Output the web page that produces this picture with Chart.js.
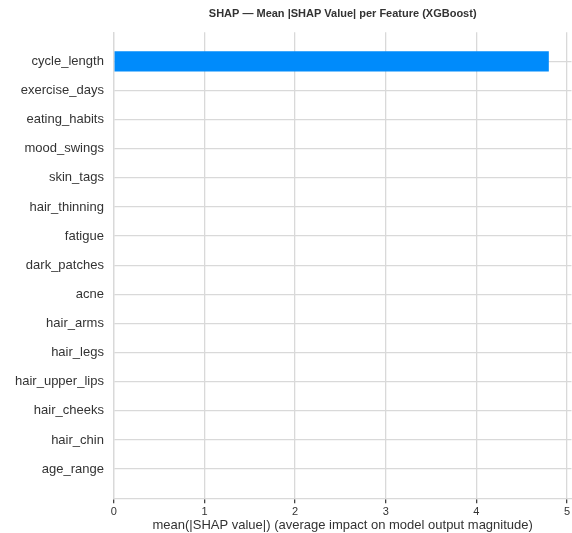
<!DOCTYPE html>
<html>
<head>
<meta charset="utf-8">
<script src="https://cdn.jsdelivr.net/npm/chart.js@4"></script>
<style>
  html, body { margin: 0; padding: 0; background: #fff; }
  #wrap { width: 572px; height: 533px; }
</style>
</head>
<body>
<div id="wrap"><canvas id="shapChart"></canvas></div>
<script>
// Features ordered by mean |SHAP| (largest first)
const features = [
    'cycle_length', 'exercise_days', 'eating_habits', 'mood_swings', 'skin_tags',
    'hair_thinning', 'fatigue', 'dark_patches', 'acne', 'hair_arms',
    'hair_legs', 'hair_upper_lips', 'hair_cheeks', 'hair_chin', 'age_range'
];
const meanShap = [4.80, 0, 0, 0, 0, 0, 0, 0, 0, 0, 0, 0, 0, 0, 0];
const xTicks = [0, 1, 2, 3, 4, 5];

// one empty slot above and below so the rows sit away from the edges
const rowLabels = [''].concat(features, ['']);
const rowValues = [null].concat(meanShap, [null]);

const textColor = '#333333';
const gridColor = '#d9d9d9';
const font = 'Liberation Sans, Arial, sans-serif';

const ctx = document.getElementById('shapChart').getContext('2d');
new Chart(ctx, {
    type: 'bar',
    data: {
        labels: rowLabels,
        datasets: [{
            label: 'mean(|SHAP value|)',
            data: rowValues,
            backgroundColor: '#008bfb',
            borderWidth: 0,
            barPercentage: 0.7,
            categoryPercentage: 1.0
        }]
    },
    options: {
        indexAxis: 'y',
        responsive: true,
        maintainAspectRatio: false,
        animation: false,
        layout: { padding: { left: 5, right: 0, top: 0, bottom: 0 } },
        scales: {
            x: {
                type: 'linear',
                min: 0,
                max: 5.05,
                afterBuildTicks: axis => {
                    axis.ticks = xTicks.map(v => ({ value: v }));
                },
                ticks: {
                    includeBounds: false,
                    color: textColor,
                    padding: 2,
                    font: { family: font, size: 11 }
                },
                grid: {
                    color: gridColor,
                    lineWidth: 1.3,
                    drawTicks: true,
                    tickLength: 5,
                    tickColor: '#444444'
                },
                border: { display: true, color: gridColor, width: 1.3 },
                title: {
                    display: true,
                    text: 'mean(|SHAP value|) (average impact on model output magnitude)',
                    color: textColor,
                    padding: { top: -3, bottom: 0 },
                    font: { family: font, size: 13 }
                }
            },
            y: {
                type: 'category',
                offset: false,
                ticks: {
                    color: textColor,
                    padding: 10,
                    autoSkip: false,
                    font: { family: font, size: 13 }
                },
                grid: {
                    offset: false,
                    drawTicks: false,
                    lineWidth: 1.3,
                    color: c => (c.index === 0 || c.index === rowLabels.length - 1) ? 'rgba(0,0,0,0)' : gridColor
                },
                border: { display: true, color: gridColor, width: 1.3 }
            }
        },
        plugins: {
            legend: { display: false },
            tooltip: { enabled: false },
            title: {
                display: true,
                fullSize: false,
                text: 'SHAP \u2014 Mean |SHAP Value| per Feature (XGBoost)',
                color: textColor,
                padding: { top: 7, bottom: 12 },
                font: { family: font, size: 11, weight: 'bold' }
            }
        }
    }
});
</script>
</body>
</html>
